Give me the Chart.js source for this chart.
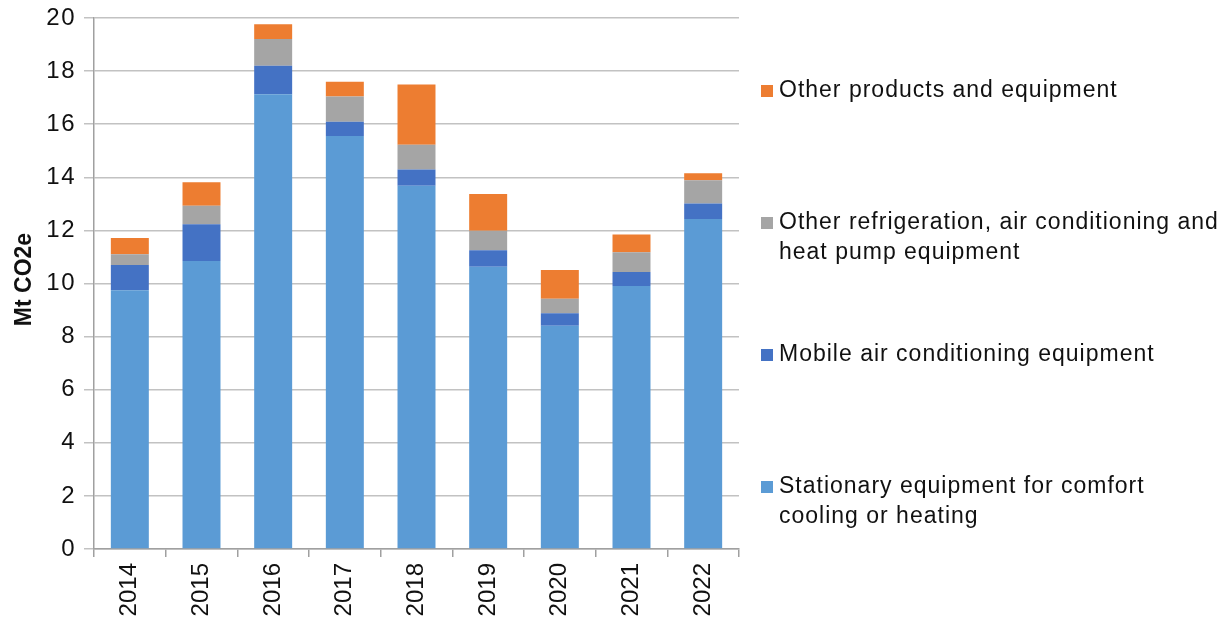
<!DOCTYPE html>
<html lang="en">
<head>
<meta charset="UTF-8" />
<title>HFC emissions by equipment type</title>
<script src="https://cdn.jsdelivr.net/npm/chart.js@4.4.1/dist/chart.umd.min.js"></script>
<style>
  body { margin: 0; background: #fff; }
  #wrap { width: 1231px; height: 626px; }
</style>
</head>
<body>
<div id="wrap"><canvas id="myChart"></canvas></div>
<script>
// emissions, Mt CO2e
const years = ['2014', '2015', '2016', '2017', '2018', '2019', '2020', '2021', '2022'];
const stationary    = [9.75, 10.85, 17.13, 15.56, 13.68, 10.63, 8.41, 9.91, 12.43];
const mobileAC      = [0.95, 1.38, 1.07, 0.53, 0.61, 0.62, 0.47, 0.52, 0.58];
const otherRefrig   = [0.40, 0.70, 1.01, 0.95, 0.94, 0.74, 0.55, 0.75, 0.88];
const otherProducts = [0.61, 0.88, 0.55, 0.56, 2.27, 1.38, 1.08, 0.67, 0.26];

// legend names, one entry per line of text
const seriesNames = [
  ['Stationary equipment for comfort', 'cooling or heating'],
  ['Mobile air conditioning equipment'],
  ['Other refrigeration, air conditioning and', 'heat pump equipment'],
  ['Other products and equipment']
];
const seriesColors = ['#5b9bd5', '#4472c4', '#a5a5a5', '#ed7d31'];
const yTitle = 'Mt CO2e';

const FONT = "'Liberation Sans', Arial, sans-serif";
const TEXT = '#111';

// y tick labels get a bit of tracking; x labels (drawn after the bars) don't
const sideLegend = {
  id: 'sideLegend',
  beforeDraw(chart) { chart.ctx.letterSpacing = '1.5px'; },
  afterDatasetsDraw(chart) { chart.ctx.letterSpacing = '0px'; },
  afterDraw(chart) {
    const ctx = chart.ctx;
    const area = chart.chartArea;
    ctx.save();

    // axis title
    ctx.letterSpacing = '0px';
    ctx.fillStyle = TEXT;
    ctx.font = 'bold 23px ' + FONT;
    ctx.textAlign = 'center';
    ctx.textBaseline = 'middle';
    ctx.translate(25, (area.top + area.bottom) / 2 - 4);
    ctx.rotate(-Math.PI / 2);
    ctx.fillText(yTitle, 0, 0);
    ctx.restore();

    // legend, top of the stack first
    ctx.save();
    ctx.letterSpacing = '1px';
    ctx.font = '23px ' + FONT;
    ctx.textAlign = 'left';
    ctx.textBaseline = 'middle';
    const boxX = 761, textX = 779, firstY = 91, step = 132, lineH = 29.5, box = 12;
    const ds = chart.data.datasets.slice().reverse();
    ds.forEach((d, i) => {
      const y = firstY + i * step;
      ctx.fillStyle = d.backgroundColor;
      ctx.fillRect(boxX, y - box / 2, box, box);
      ctx.fillStyle = TEXT;
      d.label.forEach((line, j) => ctx.fillText(line, textX, y + j * lineH));
    });
    ctx.restore();
  }
};

const series = [stationary, mobileAC, otherRefrig, otherProducts];

new Chart(document.getElementById('myChart'), {
  type: 'bar',
  data: {
    labels: years,
    datasets: series.map((vals, i) => ({
      label: seriesNames[i],
      data: vals,
      backgroundColor: seriesColors[i],
      borderWidth: 0,
      barPercentage: 0.53,
      categoryPercentage: 1.0
    }))
  },
  options: {
    responsive: true,
    maintainAspectRatio: false,
    animation: false,
    layout: { padding: { top: 18, right: 492, left: 0, bottom: 0 } },
    plugins: {
      legend: { display: false },
      tooltip: { enabled: false }
    },
    scales: {
      x: {
        stacked: true,
        afterFit: s => { s.height = 77; },
        grid: {
          display: true,
          drawOnChartArea: false,
          offset: true,
          tickLength: 8,
          color: '#a0a0a0',
          lineWidth: 1.5
        },
        border: { color: '#a0a0a0', width: 1.5 },
        ticks: {
          z: 1,
          color: TEXT,
          font: { family: FONT, size: 24 },
          minRotation: 90,
          maxRotation: 90,
          autoSkip: false,
          padding: 6
        }
      },
      y: {
        stacked: true,
        min: 0,
        max: 20,
        afterFit: s => { s.width = 94; s.paddingTop = 0; s.paddingBottom = 0; },
        grid: {
          color: '#c2c2c2',
          lineWidth: 1.5,
          tickLength: 10
        },
        border: { color: '#a0a0a0', width: 1.5 },
        ticks: {
          stepSize: 2,
          color: TEXT,
          font: { family: FONT, size: 24 },
          padding: 8
        }
      }
    }
  },
  plugins: [sideLegend]
});
</script>
</body>
</html>
